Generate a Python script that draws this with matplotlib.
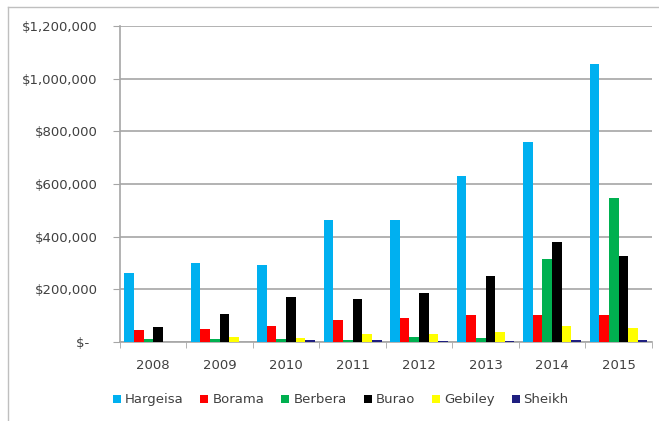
import numpy as np
import matplotlib.pyplot as plt
from matplotlib.lines import Line2D

# ==========================================
# DADOS
# ==========================================
anos = ['2008', '2009', '2010', '2011', '2012', '2013', '2014', '2015']
cidades = ['Hargeisa', 'Borama', 'Berbera', 'Burao', 'Gebiley', 'Sheikh']
cores = ['#00B0F0', '#FF0000', '#00B050', '#000000', '#FFFF00', '#1F1F80']

hargeisa = [262000, 302000, 294000, 465000, 462000, 630000, 758000, 1055000]
borama = [44000, 49000, 60000, 85000, 91000, 104000, 104000, 101000]
berbera = [10000, 10000, 10000, 8000, 19000, 16000, 317000, 548000]
burao = [57000, 105000, 171000, 162000, 188000, 250000, 380000, 325000]
gebiley = [0, 19000, 17000, 32000, 32000, 38000, 61000, 53000]
sheikh = [0, 0, 8000, 6000, 5000, 5000, 8000, 8000]

y_ticks = [0, 200000, 400000, 600000, 800000, 1000000, 1200000]
y_labels = ['$-\u2007', '$200,000', '$400,000', '$600,000', '$800,000', '$1,000,000', '$1,200,000']

series = [hargeisa, borama, berbera, burao, gebiley, sheikh]

# ==========================================
# GRÁFICO
# ==========================================
fig = plt.figure(figsize=(6.59, 4.21), dpi=100)
ax = fig.add_axes([0.182, 0.1876, 0.807, 0.7504])

x = np.arange(len(anos))
w = 0.145
n = len(cidades)
for i, (nome, vals, cor) in enumerate(zip(cidades, series, cores)):
    ax.bar(x + w * (i - (n - 1) / 2), vals, width=w, color=cor, label=nome, zorder=3)

ax.set_xlim(-0.5, len(anos) - 0.5)
ax.set_ylim(0, 1200000)
ax.set_yticks(y_ticks)
ax.set_yticklabels(y_labels)
ax.set_xticks(x)
ax.set_xticklabels(anos)
ax.set_xticks(np.arange(len(anos) + 1) - 0.5, minor=True)

cinza = '#A6A6A6'
txt = '#404040'
ax.grid(axis='y', color=cinza, linewidth=1.2, zorder=0)
for lado in ['top', 'right']:
    ax.spines[lado].set_visible(False)
for lado in ['left', 'bottom']:
    ax.spines[lado].set_color(cinza)
    ax.spines[lado].set_linewidth(1.2)

ax.tick_params(axis='y', length=5, color=cinza, labelsize=9.5, labelcolor=txt, pad=11)
ax.tick_params(axis='x', which='major', length=0, labelsize=9.5, labelcolor=txt, pad=12)
ax.tick_params(axis='x', which='minor', length=4, color=cinza)

ax.legend(loc='center', bbox_to_anchor=(0.517, 0.05), bbox_transform=fig.transFigure,
          ncol=6, frameon=False, fontsize=9.5, labelcolor=txt,
          handlelength=0.6, handleheight=0.6, handletextpad=0.3, columnspacing=1.3)

# moldura externa (só topo e esquerda aparecem)
fig.add_artist(Line2D([8 / 659, 1.0], [1 - 7 / 421, 1 - 7 / 421], transform=fig.transFigure,
                      color='#BFBFBF', linewidth=1.0))
fig.add_artist(Line2D([8 / 659, 8 / 659], [0.0, 1 - 7 / 421], transform=fig.transFigure,
                      color='#BFBFBF', linewidth=1.0))

plt.savefig('out.png')
